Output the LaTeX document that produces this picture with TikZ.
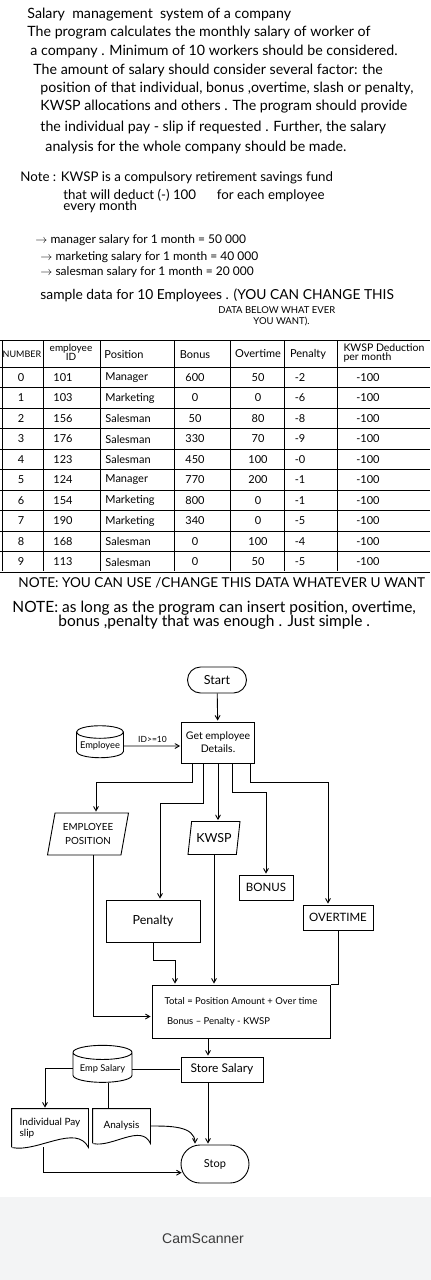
\documentclass[tikz,border=0pt]{standalone}
\usepackage{fontspec}
\setmainfont{Lato}
\newfontfamily\camfont{Liberation Sans}
\usetikzlibrary{arrows,shapes.geometric,shapes.misc}

\definecolor{footgray}{HTML}{F3F4F5}
\definecolor{camgray}{HTML}{3A3A3A}

\tikzset{
  txt/.style={anchor=west, inner sep=0pt, font=\fontsize{14.2}{15}\selectfont},
  cell/.style={inner sep=0pt, font=\fontsize{11}{11}\selectfont},
  box/.style={draw, rectangle, inner sep=1pt, font=\fontsize{11.5}{12}\selectfont},
  term/.style={draw, rounded rectangle, inner sep=1pt, font=\fontsize{12.5}{13}\selectfont},
  io/.style={draw, trapezium, trapezium left angle=72, trapezium right angle=108,
    trapezium stretches body, inner sep=1pt, align=center, font=\fontsize{9.8}{14}\selectfont},
  store/.style={draw, cylinder, shape border rotate=90, aspect=0.3, inner sep=1pt,
    font=\fontsize{9.3}{10}\selectfont},
  doc/.style={rectangle, inner sep=2pt, font=\fontsize{10}{11.5}\selectfont}
}

\begin{document}
\begin{tikzpicture}[x=1pt,y=-1pt,>=angle 60,shorten >=1pt,auto,line width=0.9pt]

\useasboundingbox (0,0) rectangle (431,1280);
\fill[white] (0,0) rectangle (431,1197);
\fill[footgray] (0,1197) rectangle (431,1280);

\node[txt] (t1) at (27,15) {Salary \ management \ system of a company};
\node[txt] (t2) at (27,33) {The program calculates the monthly salary of worker of};
\node[txt] (t3) at (30,51) {a company . Minimum of 10 workers should be considered.};
\node[txt] (t4) at (33,70) {The amount of salary should consider several factor: the};
\node[txt] (t5) at (40,88) {position of that individual, bonus ,overtime, slash or penalty,};
\node[txt] (t6) at (40,107) {KWSP allocations and others . The program should provide};
\node[txt] (t7) at (40,127) {the individual pay - slip if requested . Further, the salary};
\node[txt] (t8) at (45,147) {analysis for the whole company should be made.};

\node[txt, font=\fontsize{13.3}{15}\selectfont] (n1) at (20,178) {Note : KWSP is a compulsory retirement savings fund};
\node[txt, font=\fontsize{13.3}{15}\selectfont] (n2) at (63,195) {that will deduct (-) 100 \hspace{14pt} for each employee};
\node[txt, font=\fontsize{13.3}{15}\selectfont] (n3) at (63,207) {every month};

\node[txt, font=\fontsize{12}{13}\selectfont] (m1) at (35,240) {$\rightarrow$ manager salary for 1 month = 50 000};
\node[txt, font=\fontsize{12}{13}\selectfont] (m2) at (40,257) {$\rightarrow$ marketing salary for 1 month = 40 000};
\node[txt, font=\fontsize{12}{13}\selectfont] (m3) at (40,272) {$\rightarrow$ salesman salary for 1 month = 20 000};

\node[txt, font=\fontsize{13.8}{15}\selectfont] (s1) at (40,295) {sample data for 10 Employees . (YOU CAN CHANGE THIS};
\node[txt, font=\fontsize{9.5}{12}\selectfont] (s2) at (218,310) {DATA BELOW WHAT EVER};
\node[txt, font=\fontsize{9.5}{12}\selectfont] (s3) at (253,322) {YOU WANT).};

% table
\foreach \y in {340,367,387.5,408,428.5,449,469.5,490,510.5,531,551.5,572}
  \draw[line width=0.8pt] (0,\y) -- (431,\y);
\foreach \x in {2,43,100,174,230,284,337}
  \draw[line width=0.8pt] (\x,340) -- (\x,572);

\node[cell, font=\fontsize{9}{10}\selectfont] (hnum) at (22,354) {NUMBER};
\node[cell, align=center, font=\fontsize{10}{9}\selectfont] (hid) at (71,352) {employee\\ID};
\node[cell, anchor=west] (hpos) at (104,355) {Position};
\node[cell] (hbon) at (195,355) {Bonus};
\node[cell] (hot) at (258,354) {Overtime};
\node[cell] (hpen) at (308,354) {Penalty};
\node[cell, align=left, font=\fontsize{10.5}{9.5}\selectfont] (hkw) at (384,353) {KWSP Deduction\\per month};

\foreach \n/\id/\ps/\bn/\ot/\pn [count=\i from 0] in {
    0/101/Manager/600/50/-2, 1/103/Marketing/0/0/-6, 2/156/Salesman/50/80/-8,
    3/176/Salesman/330/70/-9, 4/123/Salesman/450/100/-0, 5/124/Manager/770/200/-1,
    6/154/Marketing/800/0/-1, 7/190/Marketing/340/0/-5, 8/168/Salesman/0/100/-4,
    9/113/Salesman/0/50/-5} {
  \pgfmathsetmacro\ry{377.5+20.5*\i}
  \node[cell] (num\i) at (21,\ry) {\n};
  \node[cell] (id\i) at (63,\ry) {\id};
  \node[cell, anchor=west] (pos\i) at (105,\ry) {\ps};
  \node[cell] (bon\i) at (195,\ry) {\bn};
  \node[cell] (ot\i) at (258,\ry) {\ot};
  \node[cell] (pen\i) at (300,\ry) {\pn};
  \node[cell] (kw\i) at (368,\ry) {-100};
}

\node[txt, font=\fontsize{13.6}{14}\selectfont] (nb) at (18,583) {NOTE: YOU CAN USE /CHANGE THIS DATA WHATEVER U WANT};
\node[txt, font=\fontsize{15.5}{16}\selectfont] (nc1) at (12,608) {NOTE: as long as the program can insert position, overtime,};
\node[txt, font=\fontsize{15.5}{16}\selectfont] (nc2) at (58,622) {bonus ,penalty that was enough . Just simple .};

% flowchart
\node[term, minimum width=61, minimum height=26] (start) at (217,680) {Start};
\node[box, minimum width=73, minimum height=41, align=center, font=\fontsize{10.5}{13}\selectfont] (get) at (218,742.5) {Get employee\\Details.};
\node[store, minimum width=47, minimum height=32] (empdb) at (100,746) {Employee};

\node[io, minimum width=81, minimum height=42] (pos) at (88,834) {EMPLOYEE\\POSITION};
\node[io, minimum width=52, minimum height=33, font=\fontsize{12.5}{13}\selectfont] (kwsp) at (214,838) {KWSP};
\node[box, minimum width=54, minimum height=25] (bonus) at (266,887.5) {BONUS};
\node[box, minimum width=94, minimum height=42, font=\fontsize{12.5}{13}\selectfont] (pen) at (153,921) {Penalty};
\node[box, minimum width=70, minimum height=25] (over) at (338,917.5) {OVERTIME};

\node[box, minimum width=178, minimum height=53, align=left, font=\fontsize{9.5}{20}\selectfont] (total) at (241,1011.5)
  {Total = Position Amount + Over time\\ \ Bonus -- Penalty - KWSP};
\node[box, minimum width=82, minimum height=25, font=\fontsize{12}{13}\selectfont] (store) at (222,1069.5) {Store Salary};
\node[store, minimum width=59, minimum height=37] (sal) at (102.5,1068.5) {Emp Salary};

\node[doc, minimum width=76, minimum height=38, align=left] (slip) at (50,1128) {Individual Pay\\slip};
\node[doc, minimum width=57, minimum height=34] (ana) at (121.5,1126) {Analysis};
\node[term, minimum width=70, minimum height=38, font=\fontsize{11}{12}\selectfont] (stop) at (215,1164) {Stop};

\draw (slip.south west) -- (slip.north west) -- (slip.north east) -- (slip.south east)
  .. controls +(-12,-24) and +(26,5) .. (slip.south west);
\draw (ana.south west) -- (ana.north west) -- (ana.north east) -- (ana.south east)
  .. controls +(-9,-20) and +(20,4) .. (ana.south west);

\path[->] (start) edge (get)
          (empdb) edge node[font=\fontsize{8.5}{10}\selectfont]{ID>=10} (empdb -| get.west);

\draw[->] ([xshift=-26pt]get.south) -- ++(0,19) -| ([xshift=8pt]pos.north);
\draw[->] ([xshift=-15pt]get.south) -- ++(0,40) -| ([xshift=7pt]pen.north);
\draw[->] (get.south) -- (get.south |- kwsp.north);
\draw[->] ([xshift=14pt]get.south) -- ++(0,29) -| (bonus.north);
\draw[->] ([xshift=32pt]get.south) -- ++(0,19) -| ([xshift=-10pt]over.north);

\draw[->] ([xshift=5pt]pos.south) |- ([yshift=-5pt]total.west);
\draw[->] (pen.south) -- ++(0,18) -| ([xshift=-66pt]total.north);
\draw[->] (kwsp.south) -- (kwsp.south |- total.north);
\draw (over.south) |- (total.north east);

\draw[->] ([xshift=-33pt]total.south) -- ([xshift=-33pt]total.south |- store.north);
\draw (sal.east |- store.west) -- (store.west);
\draw[->] (sal.west) -| ([xshift=-5pt]slip.north);
\draw ([xshift=6pt]sal.south) -- ([xshift=6pt]sal.south |- ana.north);

\draw[->] ([xshift=-7pt]slip.south) |- (stop.195);
\draw[->] (ana.east) to[out=0,in=90] ([xshift=-20pt]stop.north);
\draw[->] ([xshift=-14pt]store.south) -- ([xshift=-14pt]store.south |- stop.north);

\node[font=\camfont\fontsize{14}{16}\selectfont, text=camgray] (cam) at (203,1239) {CamScanner};

\end{tikzpicture}
\end{document}
